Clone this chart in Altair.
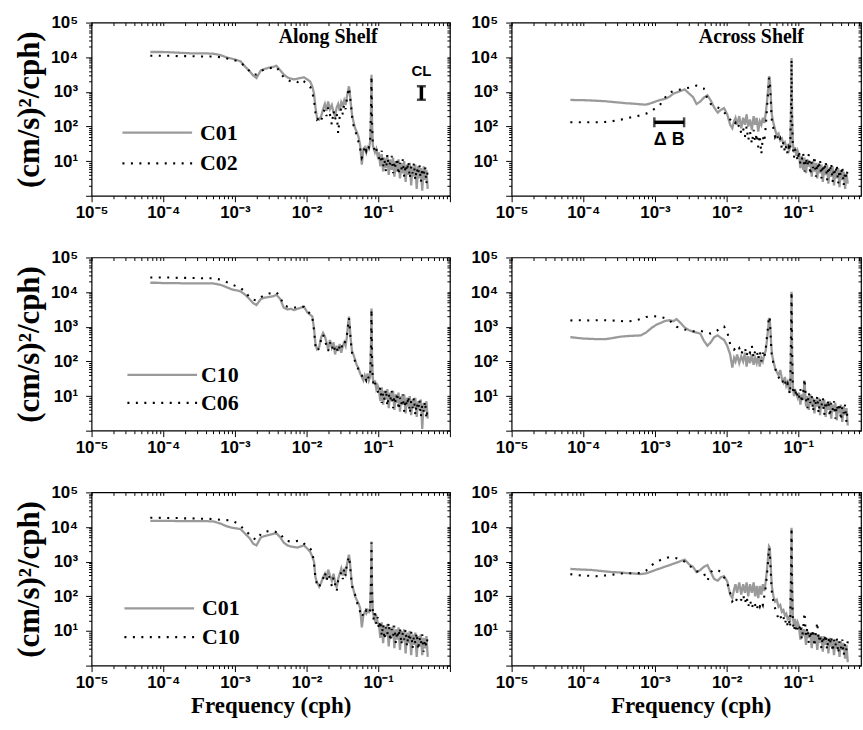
import altair as alt
import pandas as pd

# ---------------- data ----------------
# frequency grid, cph
freq = [6.6e-5, 8.0e-5, 1.0e-4, 1.3e-4, 1.6e-4, 2.0e-4, 2.5e-4, 3.2e-4, 4.0e-4, 5.0e-4,
        6.3e-4, 7.5e-4, 9.0e-4, 1.05e-3, 1.2e-3, 1.4e-3, 1.6e-3, 1.8e-3, 2.0e-3, 2.3e-3,
        2.6e-3, 3.0e-3, 3.4e-3, 3.8e-3, 4.3e-3, 4.8e-3, 5.4e-3, 6.0e-3, 6.7e-3, 7.5e-3,
        8.3e-3, 9.2e-3, 0.0102, 0.0112, 0.0120, 0.0127, 0.0133,
        0.0140, 0.0150, 0.0160, 0.0170, 0.0180, 0.0190, 0.0200, 0.0212, 0.0225, 0.0238,
        0.0250, 0.0263, 0.0276, 0.0290, 0.0305, 0.0320, 0.0335, 0.0350, 0.0365, 0.0380,
        0.0390, 0.0400, 0.0410, 0.0420, 0.0430,
        0.0450, 0.0475, 0.0500, 0.0530, 0.0560, 0.0590, 0.0620, 0.0650, 0.0680, 0.0710,
        0.0740, 0.0770, 0.0790, 0.0805, 0.0820, 0.0840, 0.0870, 0.0900, 0.0940, 0.0980,
        0.102, 0.107, 0.112, 0.117, 0.122, 0.128, 0.134, 0.140, 0.147, 0.154,
        0.161, 0.168, 0.176, 0.184, 0.192, 0.201, 0.210, 0.220, 0.230, 0.241,
        0.252, 0.263, 0.275, 0.288, 0.301, 0.315, 0.329, 0.344, 0.360, 0.376,
        0.393, 0.411, 0.430, 0.450, 0.470, 0.490]

# log10 of spectral density, (cm/s)^2/cph
along_c01_r1 = [4.15, 4.15, 4.15, 4.14, 4.13, 4.12, 4.11, 4.11, 4.11, 4.10, 4.06, 4.00, 3.96, 3.92, 3.88, 3.72, 3.60, 3.47, 3.40, 3.62,
                3.66, 3.70, 3.72, 3.75, 3.62, 3.50, 3.42, 3.38, 3.36, 3.38, 3.40, 3.42, 3.36, 3.30, 3.16, 2.95, 2.55,
                2.25, 2.20, 2.30, 2.50, 2.65, 2.45, 2.72, 2.50, 2.62, 2.40, 2.30, 2.55, 2.65, 2.45, 2.70, 2.60, 2.75, 2.62, 2.85,
                3.05, 3.16, 3.00, 2.75, 2.55, 2.35,
                2.15, 1.95, 1.85, 1.70, 1.45, 0.90, 1.35, 1.40, 1.25, 1.40, 1.35, 1.55, 2.30, 3.49, 2.10, 1.45, 1.35, 1.25, 1.35, 1.15,
                1.25, 0.85, 1.20, 0.70, 1.10, 0.80, 1.15, 0.60, 1.05, 0.75, 1.10, 0.55, 1.00, 0.70, 1.05, 0.50, 0.95, 0.65,
                1.00, 0.40, 0.90, 0.60, 0.95, 0.30, 0.85, 0.55, 0.90, 0.20, 0.85, 0.50, 0.80, 0.15, 0.85, 0.45, 0.75, 0.20]
along_c02_r1 = [4.04, 4.04, 4.04, 4.04, 4.03, 4.03, 4.03, 4.02, 4.02, 4.02, 4.00, 3.97, 3.93, 3.90, 3.85, 3.72, 3.60, 3.50, 3.50, 3.60,
                3.65, 3.68, 3.70, 3.72, 3.55, 3.42, 3.35, 3.30, 3.32, 3.28, 3.36, 3.30, 3.22, 3.15, 3.00, 2.75, 2.40,
                2.20, 2.25, 2.15, 2.40, 2.50, 2.30, 2.55, 2.35, 2.05, 2.45, 2.20, 2.40, 1.80, 2.30, 2.55, 2.35, 2.65, 2.50, 2.80,
                3.00, 3.12, 2.95, 2.75, 2.55, 2.30,
                2.05, 1.90, 1.75, 1.55, 1.35, 1.10, 1.20, 1.45, 1.30, 1.45, 1.40, 1.55, 2.30, 3.45, 2.10, 1.50, 1.40, 1.25, 1.35, 1.20,
                1.10, 0.95, 1.30, 0.85, 1.05, 0.70, 1.20, 0.85, 0.95, 1.15, 0.65, 1.00, 0.80, 1.10, 0.60, 0.95, 0.75, 1.05,
                0.55, 0.90, 0.70, 1.00, 0.50, 0.85, 0.65, 0.95, 0.45, 0.80, 0.60, 0.90, 0.40, 0.80, 0.55, 0.85, 0.35, 0.75]
across_c01_r1 = [2.77, 2.76, 2.76, 2.75, 2.74, 2.73, 2.71, 2.69, 2.67, 2.66, 2.64, 2.63, 2.68, 2.73, 2.77, 2.80, 2.86, 2.95, 2.98, 3.03,
                 3.07, 2.95, 2.85, 2.65, 2.72, 2.83, 2.90, 2.75, 2.55, 2.40, 2.48, 2.53, 2.35, 2.05, 1.95, 2.15, 2.25,
                 2.05, 2.30, 1.95, 2.25, 2.05, 2.35, 2.00, 2.20, 1.90, 2.30, 2.05, 2.25, 1.85, 2.15, 2.05, 2.25, 2.10, 2.35, 2.70,
                 3.10, 3.45, 3.40, 3.00, 2.60, 2.30,
                 2.10, 1.90, 1.75, 1.80, 1.60, 1.65, 1.50, 1.55, 1.40, 1.45, 1.30, 1.40, 2.40, 3.98, 2.30, 1.50, 1.25, 1.40, 1.15, 1.30,
                 1.20, 0.80, 1.15, 0.75, 1.10, 0.65, 1.05, 0.85, 1.00, 0.55, 1.00, 0.70, 0.95, 0.50, 0.95, 0.65, 0.90, 0.40,
                 0.85, 0.60, 0.90, 0.35, 0.80, 0.55, 0.85, 0.30, 0.75, 0.50, 0.80, 0.25, 0.75, 0.45, 0.70, 0.20, 0.65, 0.35]
across_c02_r1 = [2.12, 2.12, 2.12, 2.12, 2.12, 2.13, 2.15, 2.19, 2.23, 2.28, 2.32, 2.37, 2.45, 2.55, 2.65, 2.85, 2.98, 3.02, 3.05, 3.07,
                 3.10, 3.12, 3.14, 3.18, 3.15, 3.10, 2.80, 2.65, 2.60, 2.55, 2.50, 2.42, 2.30, 2.20, 2.12, 2.05, 2.10,
                 1.95, 2.05, 1.80, 1.95, 1.70, 2.00, 1.60, 1.85, 1.50, 1.90, 1.55, 1.80, 1.40, 1.75, 1.20, 1.70, 1.55, 1.95, 2.50,
                 3.00, 3.40, 3.35, 2.90, 2.40, 2.10,
                 1.95, 1.70, 1.80, 1.55, 1.65, 1.35, 1.55, 1.25, 1.45, 1.20, 1.40, 1.30, 2.50, 3.93, 2.20, 1.40, 1.10, 1.35, 1.20, 1.00,
                 1.30, 0.90, 1.05, 1.25, 0.70, 1.10, 0.85, 1.20, 0.60, 1.00, 0.80, 1.15, 0.55, 0.95, 0.75, 1.05, 0.50, 0.90,
                 0.70, 1.00, 0.45, 0.85, 0.65, 0.95, 0.40, 0.80, 0.60, 0.90, 0.35, 0.75, 0.55, 0.85, 0.30, 0.70, 0.50, 0.80]
along_c10_r2 = [4.27, 4.27, 4.26, 4.26, 4.26, 4.25, 4.25, 4.25, 4.25, 4.25, 4.21, 4.15, 4.08, 4.05, 4.02, 3.92, 3.80, 3.68, 3.63, 3.80,
                3.84, 3.86, 3.88, 3.92, 3.80, 3.55, 3.50, 3.52, 3.48, 3.52, 3.55, 3.58, 3.42, 3.35, 3.30, 2.95, 2.50,
                2.35, 2.42, 2.70, 2.82, 2.72, 2.55, 2.35, 2.62, 2.40, 2.55, 2.20, 2.45, 2.30, 2.50, 2.25, 2.45, 2.55, 2.45, 2.70,
                3.10, 3.29, 3.05, 2.70, 2.50, 2.30,
                2.20, 2.05, 1.90, 1.80, 1.65, 1.55, 1.45, 1.60, 1.50, 1.65, 1.45, 1.55, 2.40, 3.53, 2.10, 1.50, 1.35, 1.45, 1.20, 1.30,
                1.20, 0.85, 1.25, 0.75, 1.15, 0.90, 1.20, 0.65, 1.10, 0.85, 1.15, 0.60, 1.05, 0.80, 1.10, 0.55, 1.00, 0.75,
                1.05, 0.50, 0.95, 0.70, 1.00, 0.45, 0.90, 0.65, 0.95, 0.40, 0.85, 0.60, 0.90, 0.05, 0.80, 0.55, 0.85, 0.35]
along_c06_r2 = [4.42, 4.42, 4.42, 4.42, 4.41, 4.41, 4.41, 4.40, 4.40, 4.40, 4.36, 4.30, 4.22, 4.17, 4.12, 4.00, 3.85, 3.78, 3.76, 3.85,
                3.92, 3.96, 3.98, 4.00, 3.85, 3.62, 3.58, 3.56, 3.55, 3.58, 3.60, 3.57, 3.45, 3.38, 3.30, 2.90, 2.45,
                2.30, 2.38, 2.65, 2.78, 2.60, 2.45, 2.30, 2.55, 2.35, 2.50, 2.30, 2.40, 2.25, 2.45, 2.35, 2.55, 2.50, 2.60, 2.75,
                3.05, 3.25, 3.00, 2.70, 2.45, 2.25,
                2.15, 2.00, 1.90, 1.75, 1.65, 1.60, 1.50, 1.55, 1.45, 1.60, 1.50, 1.60, 2.30, 3.50, 2.00, 1.45, 1.30, 1.40, 1.25, 1.15,
                1.05, 1.25, 0.80, 1.10, 0.90, 1.20, 0.70, 1.05, 0.85, 1.15, 0.65, 1.00, 0.80, 1.10, 0.60, 0.95, 0.75, 1.05,
                0.55, 0.90, 0.70, 1.00, 0.50, 0.85, 0.65, 0.95, 0.45, 0.80, 0.60, 0.90, 0.40, 0.75, 0.55, 0.85, 0.35, 0.70]
across_c10_r2 = [2.70, 2.68, 2.66, 2.65, 2.64, 2.64, 2.67, 2.71, 2.73, 2.74, 2.75, 2.83, 2.97, 3.06, 3.11, 3.17, 3.19, 3.16, 3.22, 3.10,
                 2.98, 2.90, 2.86, 2.83, 2.80, 2.60, 2.45, 2.55, 2.70, 2.75, 2.68, 2.62, 2.45, 2.20, 1.82, 2.10, 2.00,
                 2.20, 1.95, 2.15, 2.00, 2.25, 1.85, 2.15, 1.95, 2.20, 1.90, 2.10, 1.95, 2.15, 1.85, 2.10, 2.00, 2.20, 2.30, 2.60,
                 2.95, 3.25, 3.20, 2.85, 2.45, 2.20,
                 2.00, 1.80, 1.70, 1.60, 1.75, 1.50, 1.40, 1.55, 1.30, 1.40, 1.20, 1.10, 2.40, 4.01, 2.20, 1.30, 1.00, 1.20, 1.05, 0.95,
                 1.10, 0.75, 1.05, 0.90, 1.45, 0.70, 1.00, 0.60, 1.05, 0.75, 0.95, 0.50, 0.90, 0.70, 0.95, 0.45, 0.85, 0.65,
                 0.90, 0.40, 0.80, 0.60, 0.85, 0.35, 0.75, 0.55, 0.80, 0.30, 0.70, 0.50, 0.75, 0.25, 0.70, 0.45, 0.65, 0.15]
across_c06_r2 = [3.18, 3.19, 3.19, 3.18, 3.19, 3.19, 3.18, 3.17, 3.15, 3.17, 3.22, 3.28, 3.31, 3.30, 3.29, 3.24, 3.18, 3.08, 3.00, 2.96,
                 2.92, 2.90, 2.87, 2.86, 2.88, 2.86, 2.84, 2.80, 2.83, 2.90, 2.98, 3.01, 2.85, 2.50, 2.40, 2.34, 2.38,
                 2.30, 2.38, 2.20, 2.35, 2.40, 2.15, 2.35, 2.25, 2.45, 2.10, 2.30, 2.35, 2.05, 2.30, 2.00, 2.25, 2.10, 2.35, 2.70,
                 3.05, 3.30, 3.25, 2.80, 2.35, 2.10,
                 1.95, 1.80, 1.65, 1.55, 1.45, 1.50, 1.35, 1.45, 1.25, 1.35, 1.15, 1.05, 2.60, 4.01, 2.30, 1.20, 1.05, 1.25, 0.95, 1.10,
                 0.95, 1.20, 0.80, 1.10, 1.50, 0.90, 0.65, 1.10, 0.80, 1.00, 0.55, 0.95, 0.75, 1.00, 0.50, 0.90, 0.70, 0.95,
                 0.45, 0.85, 0.65, 0.90, 0.40, 0.80, 0.60, 0.85, 0.35, 0.75, 0.55, 0.80, 0.30, 0.70, 0.50, 0.75, 0.25, 0.65]
along_c01_r3 = [4.18, 4.18, 4.18, 4.18, 4.17, 4.17, 4.17, 4.17, 4.17, 4.16, 4.10, 4.03, 3.98, 3.96, 3.94, 3.80, 3.68, 3.52, 3.47, 3.70,
                3.74, 3.77, 3.80, 3.82, 3.70, 3.55, 3.47, 3.44, 3.42, 3.41, 3.44, 3.47, 3.38, 3.29, 3.15, 3.00, 2.55,
                2.40, 2.28, 2.40, 2.55, 2.65, 2.50, 2.77, 2.60, 2.45, 2.65, 2.40, 2.25, 2.50, 2.65, 2.80, 2.60, 2.75, 2.65, 2.90,
                3.10, 3.20, 3.05, 2.80, 2.55, 2.35,
                2.20, 2.00, 1.90, 1.80, 1.65, 1.10, 1.45, 1.55, 1.50, 1.60, 1.55, 1.66, 2.40, 3.58, 2.20, 1.55, 1.40, 1.30, 1.45, 1.25,
                1.20, 0.80, 1.25, 0.65, 1.15, 0.85, 1.20, 0.55, 1.10, 0.80, 1.15, 0.50, 1.05, 0.75, 1.10, 0.45, 1.00, 0.70,
                1.05, 0.35, 0.95, 0.65, 1.00, 0.30, 0.90, 0.60, 0.95, 0.25, 0.85, 0.55, 0.90, 0.30, 0.80, 0.50, 0.85, 0.25]
along_c10_r3 = [4.27, 4.27, 4.26, 4.26, 4.26, 4.25, 4.25, 4.24, 4.24, 4.23, 4.21, 4.20, 4.19, 4.12, 4.03, 3.90, 3.78, 3.68, 3.63, 3.80,
                3.87, 3.88, 3.89, 3.85, 3.82, 3.65, 3.60, 3.58, 3.57, 3.60, 3.60, 3.52, 3.44, 3.38, 3.30, 2.95, 2.50,
                2.35, 2.25, 2.45, 2.50, 2.70, 2.45, 2.65, 2.50, 2.30, 2.55, 2.35, 2.15, 2.45, 2.55, 2.70, 2.50, 2.80, 2.60, 2.95,
                3.05, 3.15, 3.00, 2.75, 2.50, 2.30,
                2.15, 2.05, 1.85, 1.70, 1.55, 1.40, 1.50, 1.45, 1.60, 1.55, 1.50, 1.60, 2.35, 3.55, 2.15, 1.50, 1.30, 1.60, 1.20, 1.40,
                1.05, 1.30, 0.85, 1.20, 0.75, 1.10, 0.90, 1.25, 0.70, 1.05, 0.85, 1.15, 0.65, 1.00, 0.80, 1.10, 0.60, 0.95,
                0.75, 1.05, 0.55, 0.90, 0.70, 1.00, 0.50, 0.85, 0.65, 0.95, 0.45, 0.80, 0.60, 0.90, 0.40, 0.75, 0.55, 0.85]
across_c01_r3 = [2.79, 2.78, 2.77, 2.76, 2.74, 2.72, 2.70, 2.69, 2.67, 2.66, 2.64, 2.66, 2.72, 2.77, 2.81, 2.86, 2.90, 2.94, 2.97, 3.02,
                 3.06, 2.92, 2.85, 2.70, 2.76, 2.85, 2.90, 2.70, 2.50, 2.45, 2.55, 2.58, 2.43, 2.05, 1.95, 2.20, 2.35,
                 2.10, 2.40, 2.05, 2.35, 2.10, 2.40, 2.00, 2.35, 2.10, 2.40, 2.00, 2.30, 1.95, 2.30, 2.05, 2.35, 2.15, 2.40, 2.75,
                 3.15, 3.44, 3.40, 3.00, 2.55, 2.25,
                 2.00, 1.85, 1.90, 1.70, 1.75, 1.55, 1.60, 1.45, 1.50, 1.35, 1.40, 1.25, 2.45, 3.98, 2.30, 1.40, 1.15, 1.35, 1.10, 1.25,
                 1.15, 0.75, 1.10, 0.85, 1.05, 0.60, 1.00, 0.80, 0.95, 0.50, 0.95, 0.70, 0.90, 0.45, 0.90, 0.65, 0.85, 0.40,
                 0.85, 0.60, 0.80, 0.35, 0.80, 0.55, 0.75, 0.30, 0.75, 0.50, 0.70, 0.25, 0.70, 0.45, 0.65, 0.20, 0.60, 0.10]
across_c10_r3 = [2.64, 2.61, 2.60, 2.59, 2.58, 2.60, 2.62, 2.66, 2.66, 2.67, 2.67, 2.74, 2.90, 2.99, 3.05, 3.10, 3.13, 3.12, 3.10, 3.05,
                 3.00, 2.88, 2.82, 2.72, 2.69, 2.67, 2.45, 2.70, 2.77, 2.76, 2.70, 2.55, 2.39, 2.10, 1.85, 1.90, 1.82,
                 1.95, 1.85, 1.90, 2.05, 1.80, 2.00, 1.70, 1.90, 1.65, 1.85, 1.75, 1.60, 1.80, 1.70, 1.85, 1.75, 2.00, 2.25, 2.60,
                 3.05, 3.40, 3.30, 2.85, 2.35, 2.05,
                 1.85, 1.65, 1.50, 1.35, 1.45, 1.30, 1.40, 1.20, 1.35, 1.15, 1.30, 1.10, 2.55, 3.98, 2.25, 1.25, 1.00, 1.20, 0.95, 1.10,
                 1.00, 1.20, 0.75, 1.05, 1.53, 0.85, 1.10, 0.65, 1.00, 0.80, 1.05, 0.55, 0.95, 1.25, 0.70, 0.90, 0.50, 0.85,
                 0.65, 0.90, 0.45, 0.80, 0.60, 0.85, 0.40, 0.75, 0.55, 0.80, 0.35, 0.70, 0.50, 0.75, 0.30, 0.65, 0.45, 0.70]

# confidence limit bar (along shelf) and bandwidth bar (across shelf)
cl_freq = 0.40
cl_range = [590, 1450]
db_range = [9.8e-4, 2.55e-3]
db_level = 132

# ---------------- styling ----------------
GRAY = "#9a9a9a"
SERIF = "Liberation Serif"
SANS = "Liberation Sans"
XMAX_L = 1.0
XMAX_R = 0.75
W_L, W_R, H = 360, 351, 174
LEG_SYMBOL = "M-35,0H35"   # 70 px legend line sample (drawn at symbol size 4)

XT = [m * 10.0 ** e for e in range(-5, 0) for m in range(1, 10)] + [1.0]
YT = [m * 10.0 ** e for e in range(0, 5) for m in range(1, 10)] + [1e5]
DEC = "abs(log(datum.value)/LN10 - round(log(datum.value)/LN10)) < 0.001"
X_LABELS = DEC + " ? ['10⁻⁵','10⁻⁴','10⁻³','10⁻²','10⁻¹',''][round(log(datum.value)/LN10)+5] : ''"
Y_LABELS = DEC + " ? ['','10¹','10²','10³','10⁴','10⁵'][round(log(datum.value)/LN10)] : ''"
TICK = {"condition": {"test": DEC, "value": 6}, "value": 3}


def bottom_axis(xmax, title_x=None):
    d = dict(orient="bottom", values=[v for v in XT if v <= xmax * 1.0001], labelExpr=X_LABELS,
             labelFont=SANS, labelFontSize=17, labelFontWeight="bold", labelColor="black",
             labelPadding=3, labelOverlap=False, labelFlush=False, tickColor="black", tickWidth=1,
             tickSize=TICK, domain=False, grid=False)
    if title_x is not None:
        d.update(title="Frequency (cph)", titleFont=SERIF, titleFontSize=23, titleFontWeight="bold",
                 titleColor="black", titleX=title_x, titleY=47, titleAlign="center", titleBaseline="alphabetic")
    else:
        d["title"] = None
    return alt.Axis(**d)


def left_axis(with_title):
    d = dict(orient="left", values=YT, labelExpr=Y_LABELS, labelFont=SANS, labelFontSize=17,
             labelFontWeight="bold", labelColor="black", labelPadding=8, labelOverlap=False,
             labelFlush=False, tickColor="black", tickWidth=1, tickSize=TICK, domain=False, grid=False)
    if with_title:
        d.update(title="(cm/s)²/cph)", titleFont=SERIF, titleFontSize=31, titleFontWeight="bold",
                 titleColor="black", titleX=-62, titleY=H / 2, titleAlign="center", titleBaseline="middle")
    else:
        d["title"] = None
    return alt.Axis(**d)


def top_axis(xmax):
    return alt.Axis(orient="top", values=[v for v in XT if v <= xmax * 1.0001], labels=False, tickSize=3,
                    offset=-3, tickColor="black", domain=False, grid=False, title=None)


def right_axis():
    return alt.Axis(orient="right", values=YT, labels=False, tickSize=3, offset=-3, tickColor="black",
                    domain=False, grid=False, title=None)


def panel(gray, gname, dots, dname, left, legend_pos=None, title=None, xtitle=False, annot=None):
    xmax = XMAX_L if left else XMAX_R
    width = W_L if left else W_R
    rows = [{"f": f, "S": 10 ** v, "series": gname} for f, v in zip(freq, gray)]
    rows += [{"f": f, "S": 10 ** v, "series": dname} for f, v in zip(freq, dots)]
    df = pd.DataFrame(rows)
    xs = alt.Scale(type="log", domain=[1e-5, xmax], nice=False)
    ys = alt.Scale(type="log", domain=[1, 1e5], nice=False)
    cs = alt.Scale(domain=[gname, dname], range=[GRAY, "black"])
    ds = alt.Scale(domain=[gname, dname], range=[[1, 0], [2, 6.5]])
    if legend_pos is not None:
        lx, ly, rp, lo = legend_pos
        leg = alt.Legend(title=None, orient="none", legendX=lx, legendY=ly, direction="vertical",
                         symbolType=LEG_SYMBOL, symbolSize=4, symbolStrokeWidth=2.2, symbolFillColor="transparent",
                         labelFont=SERIF, labelFontSize=22, labelFontWeight="bold", labelColor="black",
                         labelOffset=lo, rowPadding=rp, padding=0, labelLimit=0)
    else:
        leg = None
    base = alt.Chart(df)
    gray_layer = base.transform_filter(alt.datum.series == gname).mark_line(strokeWidth=2.3).encode(
        x=alt.X("f:Q", scale=xs, axis=bottom_axis(xmax, 180 if xtitle else None)),
        y=alt.Y("S:Q", scale=ys, axis=left_axis(left)),
        color=alt.Color("series:N", scale=cs, legend=leg),
        strokeDash=alt.StrokeDash("series:N", scale=ds, legend=leg),
    )
    dot_layer = base.transform_filter(alt.datum.series == dname).mark_line(strokeWidth=2.1).encode(
        x=alt.X("f:Q", scale=xs, axis=top_axis(xmax)),
        y=alt.Y("S:Q", scale=ys, axis=right_axis()),
        color=alt.Color("series:N", scale=cs, legend=leg),
        strokeDash=alt.StrokeDash("series:N", scale=ds, legend=leg),
    )
    layers = [gray_layer, dot_layer]
    if annot == "CL":
        cl_df = pd.DataFrame({"f": [cl_freq], "lo": [cl_range[0]], "hi": [cl_range[1]]})
        caps_df = pd.DataFrame({"f": [cl_freq, cl_freq], "S": cl_range})
        layers.append(alt.Chart(cl_df).mark_rule(strokeWidth=3.5, color="black").encode(
            x=alt.X("f:Q", scale=xs, axis=None), y=alt.Y("lo:Q", scale=ys, axis=None), y2="hi:Q"))
        layers.append(alt.Chart(caps_df).mark_tick(orient="horizontal", size=9, thickness=2.5, color="black").encode(
            x=alt.X("f:Q", scale=xs, axis=None), y=alt.Y("S:Q", scale=ys, axis=None)))
        layers.append(alt.Chart(cl_df).mark_text(text="CL", font=SANS, fontSize=15, fontWeight="bold",
                                                 color="black", dy=-15, baseline="middle").encode(
            x=alt.X("f:Q", scale=xs, axis=None), y=alt.Y("hi:Q", scale=ys, axis=None)))
    if annot == "DB":
        db_df = pd.DataFrame({"lo": [db_range[0]], "hi": [db_range[1]], "S": [db_level],
                              "mid": [(db_range[0] * db_range[1]) ** 0.5]})
        caps_df = pd.DataFrame({"f": db_range, "S": [db_level, db_level]})
        layers.append(alt.Chart(db_df).mark_rule(strokeWidth=3.5, color="black").encode(
            x=alt.X("lo:Q", scale=xs, axis=None), x2="hi:Q", y=alt.Y("S:Q", scale=ys, axis=None)))
        layers.append(alt.Chart(caps_df).mark_tick(orient="vertical", size=10, thickness=2.5, color="black").encode(
            x=alt.X("f:Q", scale=xs, axis=None), y=alt.Y("S:Q", scale=ys, axis=None)))
        layers.append(alt.Chart(db_df).mark_text(text="Δ B", font=SANS, fontSize=18, fontWeight="bold",
                                                 color="black", dy=18, baseline="middle").encode(
            x=alt.X("mid:Q", scale=xs, axis=None), y=alt.Y("S:Q", scale=ys, axis=None)))
    if title is not None:
        # panel heading, placed inside the plot frame (pixel position within the panel)
        layers.append(alt.Chart(pd.DataFrame({"t": [title]})).mark_text(
            font=SERIF, fontSize=20, fontWeight="bold", color="black", align="left", baseline="alphabetic"
        ).encode(text="t:N", x=alt.value(188), y=alt.value(20.5)))
    return alt.layer(*layers).properties(width=width, height=H)


p11 = panel(along_c01_r1, "C01", along_c02_r1, "C02", True, legend_pos=(55, 99.5, 9, 32),
            title="Along Shelf", annot="CL")
p12 = panel(across_c01_r1, "C01", across_c02_r1, "C02", False, title="Across Shelf", annot="DB")
p21 = panel(along_c10_r2, "C10", along_c06_r2, "C06", True, legend_pos=(60, 107, 6, 28))
p22 = panel(across_c10_r2, "C10", across_c06_r2, "C06", False)
p31 = panel(along_c01_r3, "C01", along_c10_r3, "C10", True, legend_pos=(57, 105.5, 7, 32), xtitle=True)
p32 = panel(across_c01_r3, "C01", across_c10_r3, "C10", False, xtitle=True)

chart = alt.concat(p11, p12, p21, p22, p31, p32, columns=2, spacing={"row": 62, "column": 62},
                   bounds="flush").resolve_scale(
    color="independent", strokeDash="independent").resolve_legend(
    color="independent", strokeDash="independent").properties(
    padding={"left": 13, "top": 11, "right": 0, "bottom": 0}, background="white"
).configure_view(stroke="black", strokeWidth=1.2)

chart.save("out.html", embed_options={"renderer": "svg", "actions": False})
